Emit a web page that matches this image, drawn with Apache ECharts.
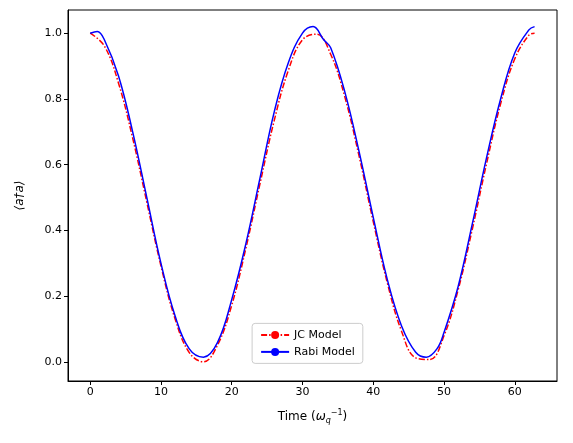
<!DOCTYPE html>
<html><head><meta charset="utf-8">
<script src="https://cdn.jsdelivr.net/npm/echarts@6/dist/echarts.min.js"></script>
<style>html,body{margin:0;padding:0;background:#fff}#c{width:573px;height:443px}</style>
</head><body><div id="c"></div>
<script>
// JC model
var jcT = [0,2,4,6,8,10,12,14,16,18,20,22,24,26,28,30,32,34,36,38,40,42,44,46,48,50,52,54,56,58,60,62,62.8];
var jcV = [1,.961,.848,.681,.486,.292,.131,.029,.001,.052,.173,.346,.543,.734,.887,.98,.997,.935,.805,.626,.427,.24,.094,.013,.008,.08,.22,.404,.602,.785,.922,.994,1];
// Rabi model
var rabiT = [0,1,2,4,6,8,10,12,14,16,18,20,22,24,26,28,30,31.5,33,34,36,38,40,42,44,46,47.5,49,50,52,54,56,58,60,62,62.8];
var rabiV = [1,1.005,.98,.87,.70,.50,.30,.14,.04,.015,.06,.19,.36,.56,.76,.91,1.0,1.02,.98,.955,.82,.64,.44,.25,.11,.03,.015,.04,.09,.23,.42,.62,.80,.94,1.01,1.02];
var xTicks = [0,10,20,30,40,50,60];
var yTicks = [0,0.2,0.4,0.6,0.8,1.0];

function pairs(t, v){ var r=[]; for(var i=0;i<t.length;i++) r.push([t[i],v[i]]); return r; }

var chart = echarts.init(document.getElementById('c'));
var txt = {color:'#000', fontFamily:'DejaVu Sans', fontSize:11};
chart.setOption({
	animation:false,
	grid:{left:68,right:16,top:10,bottom:62,show:true,borderColor:'#000',borderWidth:1,
		containLabel:false,outerBoundsMode:'none'},
	legend:{
		left:'44%', top:'73%', orient:'vertical', itemGap:6, itemWidth:28, itemHeight:10,
		borderColor:'#ccc', borderWidth:1, borderRadius:3, padding:[6,8],
		textStyle:txt,
		data:['JC Model','Rabi Model']
	},
	xAxis:{
		type:'value', min:-3.14, max:65.97,
		name:'Time ({w|ω}{s|q}{p|−1})', nameLocation:'middle', nameGap:28,
		nameTextStyle:{color:'#000',fontFamily:'DejaVu Sans',fontSize:12,
			rich:{w:{fontStyle:'italic',fontSize:12,fontFamily:'DejaVu Sans'},
				s:{fontSize:8,verticalAlign:'bottom',padding:[6,0,0,0],fontStyle:'italic',fontFamily:'DejaVu Sans'},
				p:{fontSize:8,padding:[0,0,8,0],fontFamily:'DejaVu Sans'}}},
		splitLine:{show:false},
		axisLine:{onZero:false,lineStyle:{color:'#000'}},
		axisTick:{customValues:xTicks,length:4,lineStyle:{color:'#000'}},
		axisLabel:Object.assign({customValues:xTicks,margin:6},txt)
	},
	yAxis:{
		type:'value', min:-0.0575, max:1.0705,
		name:'⟨a†a⟩', nameLocation:'middle', nameGap:42, nameRotate:90,
		nameTextStyle:{color:'#000',fontFamily:'DejaVu Sans',fontSize:12,fontStyle:'italic'},
		splitLine:{show:false},
		axisLine:{onZero:false,lineStyle:{color:'#000'}},
		axisTick:{customValues:yTicks,length:4,lineStyle:{color:'#000'}},
		axisLabel:Object.assign({customValues:yTicks,margin:6,formatter:function(v){return v.toFixed(1);}},txt)
	},
	series:[
		{name:'JC Model',type:'line',smooth:0.4,symbol:'none',data:pairs(jcT,jcV),
			itemStyle:{color:'#ff0000'},lineStyle:{color:'#ff0000',width:1.5,type:[6,2,1.5,2]}},
		{name:'Rabi Model',type:'line',smooth:0.4,symbol:'none',data:pairs(rabiT,rabiV),
			itemStyle:{color:'#0000ff'},lineStyle:{color:'#0000ff',width:1.5}}
	]
});
</script></body></html>
